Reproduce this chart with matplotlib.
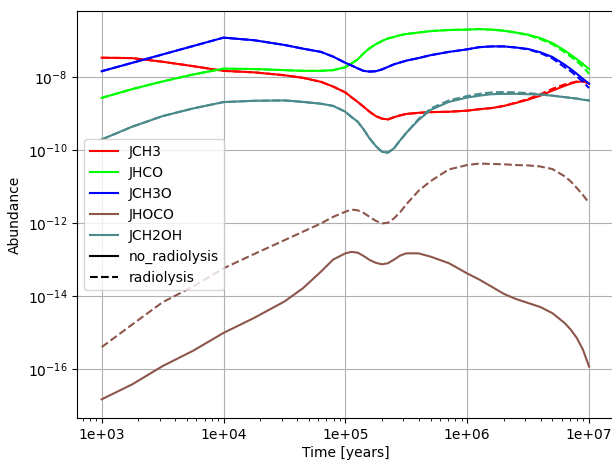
import numpy as np
import matplotlib
matplotlib.use('Agg')
import matplotlib.pyplot as plt
from matplotlib.lines import Line2D
from matplotlib.ticker import FormatStrFormatter

# time grid [years]
time = [1.0e3, 1.78e3, 3.16e3, 5.62e3, 1.0e4, 1.78e4, 3.16e4, 4.47e4, 6.31e4, 7.94e4,
        1.0e5, 1.12e5, 1.26e5, 1.41e5, 1.58e5, 1.78e5, 2.0e5, 2.24e5, 2.51e5, 2.82e5,
        3.16e5, 3.98e5, 5.01e5, 7.08e5, 1.0e6, 1.26e6, 1.58e6, 2.0e6, 2.51e6, 3.16e6,
        3.98e6, 5.01e6, 6.31e6, 7.08e6, 7.94e6, 8.91e6, 1.0e7]

# log10 abundances, no radiolysis
jch3 = [-7.47, -7.48, -7.58, -7.70, -7.83, -7.87, -7.95, -8.02, -8.13, -8.26,
        -8.42, -8.55, -8.68, -8.81, -8.95, -9.07, -9.14, -9.16, -9.10, -9.05,
        -9.01, -8.98, -8.96, -8.95, -8.92, -8.88, -8.85, -8.79, -8.71, -8.62,
        -8.51, -8.37, -8.24, -8.18, -8.13, -8.12, -8.18]
jhco = [-8.57, -8.33, -8.12, -7.93, -7.77, -7.78, -7.81, -7.83, -7.83, -7.81,
        -7.73, -7.63, -7.52, -7.35, -7.21, -7.10, -7.01, -6.94, -6.90, -6.85,
        -6.82, -6.78, -6.74, -6.71, -6.70, -6.685, -6.70, -6.73, -6.78, -6.84,
        -6.93, -7.07, -7.27, -7.39, -7.51, -7.64, -7.78]
jch3o = [-7.84, -7.61, -7.38, -7.15, -6.92, -6.99, -7.12, -7.22, -7.31, -7.44,
         -7.61, -7.68, -7.76, -7.83, -7.85, -7.84, -7.79, -7.72, -7.65, -7.60,
         -7.55, -7.48, -7.40, -7.31, -7.24, -7.18, -7.16, -7.16, -7.19, -7.23,
         -7.32, -7.45, -7.66, -7.78, -7.91, -8.05, -8.18]
jhoco = [-16.83, -16.42, -15.92, -15.50, -15.01, -14.60, -14.15, -13.79, -13.33, -13.00,
         -12.83, -12.79, -12.81, -12.90, -13.01, -13.09, -13.13, -13.10, -13.00, -12.89,
         -12.83, -12.83, -12.92, -13.10, -13.38, -13.55, -13.74, -13.94, -14.08, -14.19,
         -14.30, -14.47, -14.74, -14.92, -15.15, -15.47, -15.93]
jch2oh = [-9.71, -9.36, -9.07, -8.86, -8.685, -8.65, -8.64, -8.68, -8.73, -8.79,
          -8.95, -9.09, -9.22, -9.43, -9.68, -9.89, -10.05, -10.07, -9.95, -9.73,
          -9.53, -9.18, -8.90, -8.68, -8.56, -8.51, -8.47, -8.46, -8.46, -8.47,
          -8.48, -8.51, -8.55, -8.57, -8.59, -8.62, -8.64]

# log10 abundances, radiolysis
jch3_r = [-7.47, -7.48, -7.58, -7.70, -7.83, -7.87, -7.95, -8.02, -8.13, -8.26,
          -8.42, -8.55, -8.68, -8.81, -8.95, -9.07, -9.14, -9.16, -9.10, -9.05,
          -9.01, -8.98, -8.96, -8.95, -8.92, -8.88, -8.85, -8.79, -8.70, -8.60,
          -8.47, -8.32, -8.20, -8.16, -8.12, -8.11, -8.17]
jhco_r = [-8.57, -8.33, -8.12, -7.93, -7.77, -7.78, -7.81, -7.83, -7.83, -7.81,
          -7.73, -7.63, -7.52, -7.35, -7.21, -7.10, -7.01, -6.94, -6.90, -6.85,
          -6.82, -6.78, -6.74, -6.71, -6.70, -6.685, -6.70, -6.73, -6.78, -6.85,
          -6.96, -7.10, -7.32, -7.44, -7.57, -7.72, -7.91]
jch3o_r = [-7.84, -7.61, -7.38, -7.15, -6.92, -6.99, -7.12, -7.22, -7.31, -7.44,
           -7.61, -7.68, -7.76, -7.83, -7.85, -7.84, -7.79, -7.72, -7.65, -7.60,
           -7.55, -7.48, -7.40, -7.31, -7.24, -7.18, -7.16, -7.16, -7.19, -7.24,
           -7.34, -7.49, -7.73, -7.84, -7.98, -8.13, -8.30]
jhoco_r = [-15.40, -14.78, -14.17, -13.74, -13.24, -12.85, -12.47, -12.24, -12.01, -11.83,
           -11.69, -11.63, -11.65, -11.72, -11.83, -11.94, -12.01, -11.99, -11.87, -11.70,
           -11.49, -11.12, -10.85, -10.53, -10.41, -10.37, -10.38, -10.39, -10.41, -10.42,
           -10.45, -10.52, -10.72, -10.86, -11.04, -11.23, -11.45]
jch2oh_r = [-9.71, -9.36, -9.07, -8.86, -8.685, -8.65, -8.64, -8.68, -8.73, -8.79,
            -8.95, -9.09, -9.22, -9.43, -9.68, -9.89, -10.05, -10.07, -9.95, -9.73,
            -9.53, -9.15, -8.86, -8.64, -8.52, -8.46, -8.42, -8.41, -8.42, -8.44,
            -8.47, -8.51, -8.55, -8.57, -8.59, -8.62, -8.64]

species = ['JCH3', 'JHCO', 'JCH3O', 'JHOCO', 'JCH2OH']
colors = ['red', 'lime', 'blue', '#8c564b', '#4a8a8a']
no_rad = [jch3, jhco, jch3o, jhoco, jch2oh]
rad = [jch3_r, jhco_r, jch3o_r, jhoco_r, jch2oh_r]

fig = plt.figure(figsize=(6.12, 4.61), dpi=100)
ax = fig.add_axes([0.1263, 0.0926, 0.876, 0.8835])

for s, c, a, b in zip(species, colors, no_rad, rad):
    ax.plot(time, 10 ** np.array(a), color=c, linestyle='-')
    ax.plot(time, 10 ** np.array(b), color=c, linestyle='--')

ax.set_xscale('log')
ax.set_yscale('log')
ax.set_xlim(10 ** 2.8, 10 ** 7.2)
ax.set_ylim(10 ** -17.35, 10 ** -6.19)
ax.xaxis.set_major_formatter(FormatStrFormatter('%.0e'))
ax.grid(True)
ax.set_xlabel('Time [years]', labelpad=2.5)
ax.set_ylabel('Abundance')

handles = [Line2D([0], [0], color=c) for c in colors]
handles.append(Line2D([0], [0], color='black', linestyle='-'))
handles.append(Line2D([0], [0], color='black', linestyle='--'))
labels = species + ['no_radiolysis', 'radiolysis']
ax.legend(handles, labels, loc='center left')

fig.savefig('out.png', dpi=100)
